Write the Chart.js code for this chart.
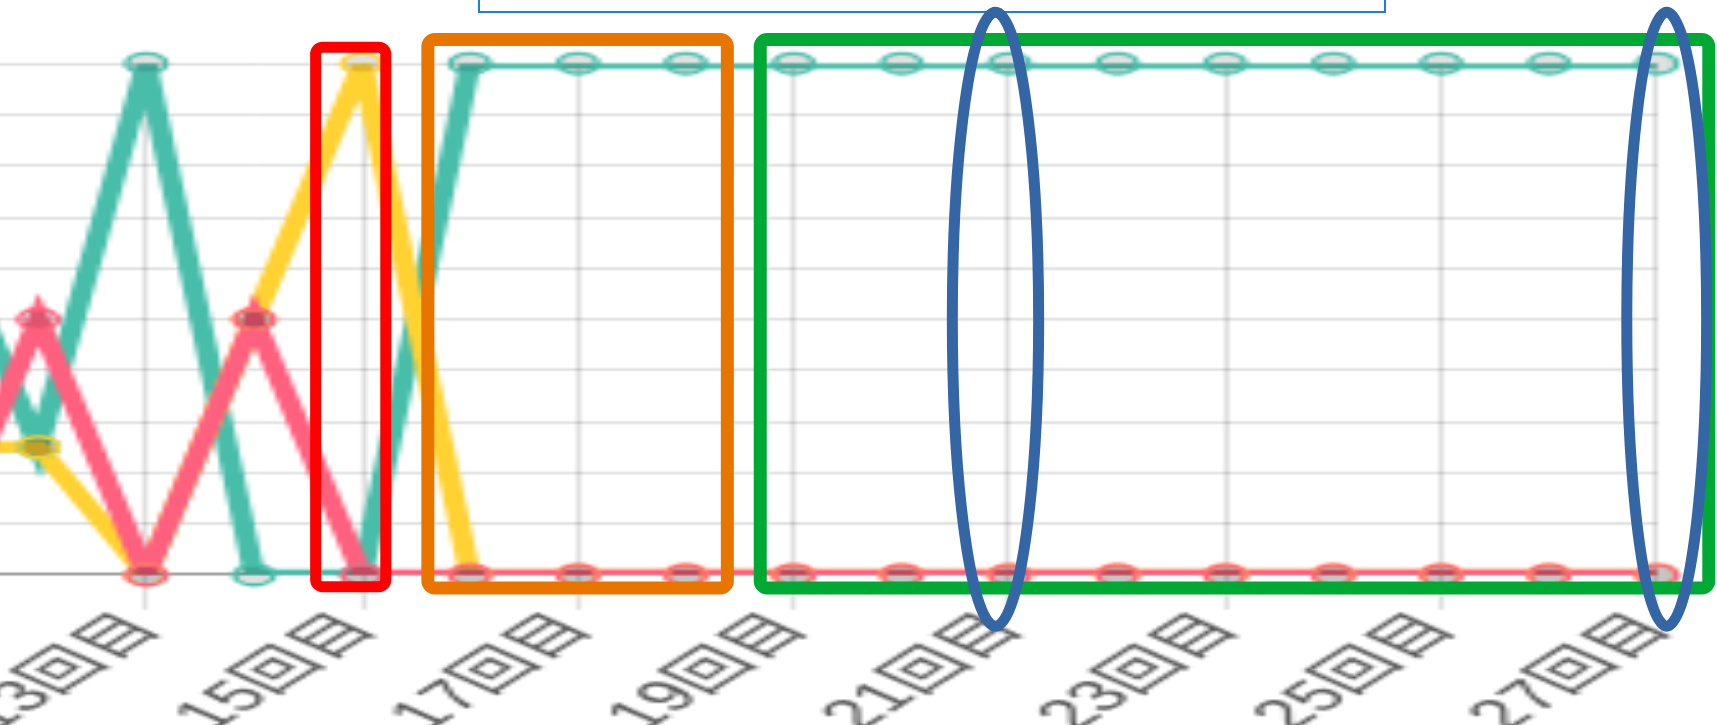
<!DOCTYPE html>
<html>
<head>
<meta charset="utf-8">
<script src="https://cdn.jsdelivr.net/npm/chart.js@4.4.1/dist/chart.umd.min.js"></script>
<style>
  html, body { margin: 0; padding: 0; background: #fff; overflow: hidden; }
  body { width: 1717px; height: 725px; position: relative; }
  #chart { position: absolute; left: 0; top: 0; transform-origin: 0 0; }
  #marks { position: absolute; left: 0; top: 0; }
  #note { position: absolute; left: 478px; top: -12px; width: 908px; height: 25px;
          border: 2px solid #1f7fd2; box-sizing: border-box; }
</style>
</head>
<body>
<canvas id="chart" width="570" height="288"></canvas>
<div id="note"></div>
<svg id="marks" width="1717" height="725"></svg>
<script>
// rounds on the x axis
const rounds = ['1回目', '2回目', '3回目', '4回目', '5回目', '6回目', '7回目', '8回目', '9回目',
  '10回目', '11回目', '12回目', '13回目', '14回目', '15回目', '16回目', '17回目', '18回目',
  '19回目', '20回目', '21回目', '22回目', '23回目', '24回目', '25回目', '26回目', '27回目'];

// series values (rounds 1-10 are outside the visible crop)
const tealValues   = [null, null, null, null, null, null, null, null, null, null,
  75, 25, 100, 0, 0, 100, 100, 100, 100, 100, 100, 100, 100, 100, 100, 100, 100];
const redValues    = [null, null, null, null, null, null, null, null, null, null,
  0, 50, 0, 50, 0, 0, 0, 0, 0, 0, 0, 0, 0, 0, 0, 0, 0];
const yellowValues = [null, null, null, null, null, null, null, null, null, null,
  25, 25, 0, 50, 100, 0, 0, 0, 0, 0, 0, 0, 0, 0, 0, 0, 0];

const yTicks = [0, 10, 20, 30, 40, 50, 60, 70, 80, 90, 100];

const RED = 'rgb(255, 96, 126)';
const YELLOW = 'rgb(255, 210, 50)';
const TEAL = 'rgb(72, 190, 170)';

// where the plot sits on the page (the screenshot is a stretched crop)
const frame = { firstIndex: 11, lastIndex: 26, left: 38.3, right: 1657, top: 63.5, bottom: 575 };
// how much the original small chart was stretched
const stretch = { x: 5.1, y: 2.65 };

// hand-drawn highlights, in category index / value units
const boxes = [
  { from: 13.57, to: 14.22, top: 103.2, bottom: -2.3, color: '#ff0000', width: 11 },
  { from: 14.61, to: 17.385, top: 104.7, bottom: -2.55, color: '#e87500', width: 13 },
  { from: 17.69, to: 26.48, top: 104.7, bottom: -2.55, color: '#00a933', width: 13 }
];
const rings = [
  { at: 19.87, half: 0.4, mid: 50, spread: 60, color: '#3465a4', width: 11 },
  { at: 26.09, half: 0.37, mid: 50, spread: 60, color: '#3465a4', width: 11 }
];

function lineSet(label, data, color) {
  return { label: label, data: data, borderColor: color, backgroundColor: color,
    borderWidth: 4.3, pointRadius: 0, fill: false, tension: 0, clip: 0 };
}
function dotSet(label, data, color) {
  return { label: label, data: data, showLine: false, borderColor: color,
    pointBorderColor: color, pointBackgroundColor: 'rgba(0,0,0,0.12)',
    pointRadius: 3.8, pointBorderWidth: 1.3, clip: false };
}

function makeConfig() {
  return {
    type: 'line',
    data: {
      labels: rounds,
      datasets: [
        dotSet('C', redValues, RED),
        dotSet('B', yellowValues, YELLOW),
        dotSet('A', tealValues, TEAL),
        lineSet('C', redValues, RED),
        lineSet('B', yellowValues, YELLOW),
        lineSet('A', tealValues, TEAL)
      ]
    },
    options: {
      responsive: false,
      devicePixelRatio: 1,
      animation: false,
      events: [],
      layout: { padding: { top: 8, right: 10, left: 4, bottom: 0 } },
      plugins: { legend: { display: false }, tooltip: { enabled: false } },
      scales: {
        x: {
          ticks: {
            autoSkip: false, minRotation: 50, maxRotation: 50, color: '#555', padding: -2,
            font: { family: "'Liberation Sans', 'Noto Sans CJK JP'", size: 16.5 },
            callback: function(v, i) { return i % 2 === 0 ? this.getLabelForValue(v) : ''; }
          },
          grid: {
            color: c => c.index % 2 === 0 ? 'rgba(0,0,0,0.13)' : 'rgba(0,0,0,0)',
            tickLength: 13
          },
          border: { color: 'rgba(0,0,0,0.35)' }
        },
        y: {
          min: yTicks[0], max: yTicks[yTicks.length - 1],
          ticks: { stepSize: yTicks[1] - yTicks[0] },
          grid: { color: 'rgba(0,0,0,0.13)' }
        }
      }
    }
  };
}

const canvas = document.getElementById('chart');
function build(w, h) {
  canvas.width = w;
  canvas.height = h;
  canvas.style.width = w + 'px';
  canvas.style.height = h + 'px';
  return new Chart(canvas, makeConfig());
}

// first pass: measure the plot, then size the canvas so the stretch is right
let chart = build(570, 288);
let xs = chart.scales.x, ys = chart.scales.y;
const spanX = xs.getPixelForValue(frame.lastIndex) - xs.getPixelForValue(frame.firstIndex);
const spanY = ys.getPixelForValue(0) - ys.getPixelForValue(100);
const wantX = (frame.right - frame.left) / stretch.x;
const wantY = (frame.bottom - frame.top) / stretch.y;
const newW = Math.round(570 + (wantX - spanX) * (rounds.length - 1) / (frame.lastIndex - frame.firstIndex));
const newH = Math.round(288 + (wantY - spanY));
chart.destroy();
chart = build(newW, newH);
xs = chart.scales.x;
ys = chart.scales.y;

const sx = (frame.right - frame.left) /
  (xs.getPixelForValue(frame.lastIndex) - xs.getPixelForValue(frame.firstIndex));
const sy = (frame.bottom - frame.top) / (ys.getPixelForValue(0) - ys.getPixelForValue(100));
const tx = frame.left - sx * xs.getPixelForValue(frame.firstIndex);
const ty = frame.top - sy * ys.getPixelForValue(100);
canvas.style.transform = `translate(${tx}px, ${ty}px) scale(${sx}, ${sy})`;

const pageX = i => tx + sx * xs.getPixelForValue(i);
const pageY = v => ty + sy * ys.getPixelForValue(v);

const svg = document.getElementById('marks');
let out = '';
boxes.forEach(b => {
  const x1 = pageX(b.from), x2 = pageX(b.to), y1 = pageY(b.top), y2 = pageY(b.bottom);
  out += `<rect x="${x1}" y="${y1}" width="${x2 - x1}" height="${y2 - y1}" rx="7" ry="7"
    fill="none" stroke="${b.color}" stroke-width="${b.width}"/>`;
});
rings.forEach(r => {
  const cx = pageX(r.at), cy = pageY(r.mid);
  const rx = pageX(r.at + r.half) - cx, ry = pageY(r.mid - r.spread) - cy;
  out += `<ellipse cx="${cx}" cy="${cy}" rx="${rx}" ry="${ry}" fill="none"
    stroke="${r.color}" stroke-width="${r.width}"/>`;
});
svg.innerHTML = out;
</script>
</body>
</html>
